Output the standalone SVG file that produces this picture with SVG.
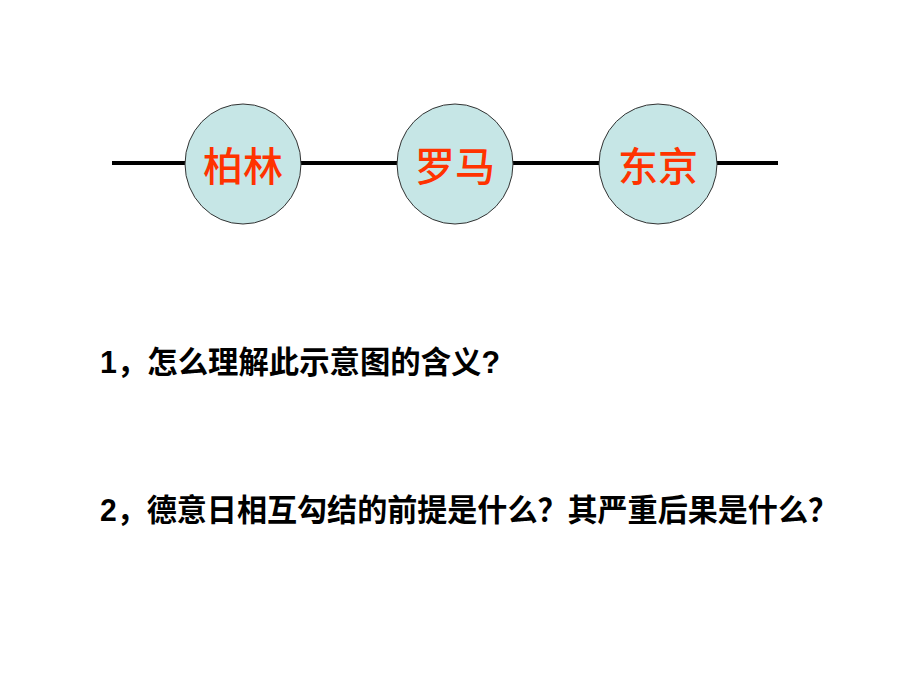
<svg xmlns="http://www.w3.org/2000/svg" width="920" height="690" viewBox="0 0 920 690">
<style>
.node ellipse{fill:#c6e6e6;stroke:#333;stroke-width:1}
.lbl{font-family:"Liberation Sans","Noto Sans CJK SC",sans-serif;font-size:40px;font-weight:500;fill:#ff3300;text-anchor:middle}
.q{font-family:"Liberation Sans","Noto Sans CJK SC",sans-serif;font-weight:bold;font-size:31px;fill:#000}
</style>
<rect width="920" height="690" fill="#fff"/>
<g id="connectors">
<line x1="112" y1="163" x2="778" y2="163" stroke="#000" stroke-width="4"/>
</g>
<g id="node-berlin" class="node"><ellipse cx="243" cy="164" rx="58" ry="60"/><text class="lbl" x="243" y="181">柏林</text></g>
<g id="node-rome" class="node"><ellipse cx="455" cy="164" rx="58" ry="60"/><text class="lbl" x="455" y="181">罗马</text></g>
<g id="node-tokyo" class="node"><ellipse cx="658" cy="164" rx="59" ry="60"/><text class="lbl" x="658" y="181">东京</text></g>
<text class="q" x="100" y="373" textLength="400" lengthAdjust="spacingAndGlyphs">1，怎么理解此示意图的含义?</text>
<text class="q" x="100" y="521" textLength="738" lengthAdjust="spacingAndGlyphs">2，德意日相互勾结的前提是什么？其严重后果是什么？</text>
</svg>
